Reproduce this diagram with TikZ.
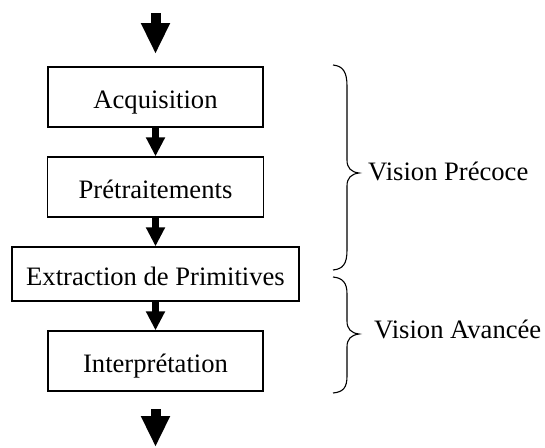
\documentclass[tikz,border=0pt]{standalone}
\usepackage{fontspec}
\setmainfont{Liberation Serif}
\usetikzlibrary{arrows.meta}
\begin{document}
\begin{tikzpicture}[x=1pt,y=-1pt,
  font=\fontsize{26.6}{30}\selectfont,
  stage/.style={draw,line width=1.3pt,minimum height=60pt,inner sep=0pt,
    text height=24pt,text depth=2pt,anchor=center},
  flow/.style={line width=6.5pt,-{Triangle[length=19pt,width=18pt]}},
  bigflow/.style={line width=10pt,-{Triangle[length=31pt,width=27pt]}},
  bracepath/.style={line width=1.1pt},
  label/.style={anchor=base west,inner sep=0pt}]
  \useasboundingbox (0,0) rectangle (545,447);

  % processing stages
  \node[stage,minimum width=215pt] (acq) at (155.5,97) {Acquisition};
  \node[stage,minimum width=216pt] (pre) at (155.5,187) {Prétraitements};
  \node[stage,minimum width=287pt,minimum height=54pt] (ext) at (155.5,274) {Extraction de Primitives};
  \node[stage,minimum width=215pt] (int) at (155.5,361) {Interprétation};

  % input and output ends
  \coordinate (in0) at (155.5,13);
  \coordinate (in1) at (155.5,54);
  \coordinate (out0) at (155.5,409);
  \coordinate (out1) at (155.5,447);

  \draw[bigflow] (in0) -- (in1);
  \draw[flow] (acq.south) -- (pre.north);
  \draw[flow] (pre.south) -- (ext.north);
  \draw[flow] (ext.south) -- (int.north);
  \draw[bigflow] (out0) -- (out1);

  % braces grouping the stages
  \draw[bracepath] (333,65) .. controls (343,66) and (347,72) .. (347,86)
    -- (347,160) .. controls (347,168) and (351,172) .. (359,173)
    .. controls (351,174) and (347,178) .. (347,186)
    -- (347,250) .. controls (347,264) and (343,269) .. (333,270);
  \draw[bracepath] (333,277) .. controls (343,278) and (347,283) .. (347,294)
    -- (347,321) .. controls (347,329) and (351,333) .. (359,334)
    .. controls (351,335) and (347,339) .. (347,347)
    -- (347,376) .. controls (347,388) and (343,392) .. (333,393);

  \node[label] (early) at (368,180) {Vision Précoce};
  \node[label] (late) at (374,338) {Vision Avancée};
\end{tikzpicture}
\end{document}
